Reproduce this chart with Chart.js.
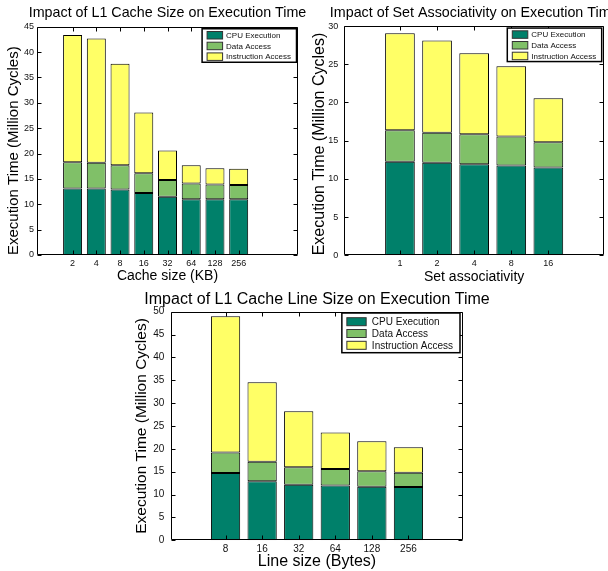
<!DOCTYPE html>
<html>
<head>
<meta charset="utf-8">
<script src="https://cdn.jsdelivr.net/npm/chart.js@4.4.1/dist/chart.umd.min.js"></script>
<style>
  html, body { margin: 0; padding: 0; background: #fff; overflow: hidden; }
  body { width: 608px; height: 571px; position: relative; }
  canvas { position: absolute; left: 0; top: 0; }
</style>
</head>
<body>
<canvas id="cacheSizeChart" width="700" height="571"></canvas>
<canvas id="assocChart" width="700" height="571"></canvas>
<canvas id="lineSizeChart" width="700" height="571"></canvas>
<script>
const FONT = '"Liberation Sans", Arial, Helvetica, sans-serif';

// series shared by all three plots
const seriesNames = ['CPU Execution', 'Data Access', 'Instruction Access'];
const seriesColors = ['#00806a', '#80c068', '#ffff66'];

// L1 cache size (KB)
const cacheSizes = ['2', '4', '8', '16', '32', '64', '128', '256'];
const cacheCpu   = [13.1, 13.1, 12.9, 12.2, 11.5, 11.0, 11.0, 11.0];
const cacheData  = [5.2, 5.1, 4.8, 3.9, 3.3, 3.1, 2.9, 2.8];
const cacheInstr = [25.1, 24.5, 20.0, 12.0, 5.8, 3.6, 3.2, 3.2];

// set associativity
const assocWays  = ['1', '2', '4', '8', '16'];
const assocCpu   = [12.25, 12.1, 11.9, 11.75, 11.5];
const assocData  = [4.1, 3.95, 3.95, 3.8, 3.3];
const assocInstr = [12.7, 12.05, 10.6, 9.2, 5.75];

// line size (bytes)
const lineSizes = ['8', '16', '32', '64', '128', '256'];
const lineCpu   = [14.7, 12.9, 12.15, 12.0, 11.7, 11.65];
const lineData  = [4.5, 4.3, 3.85, 3.6, 3.4, 3.15];
const lineInstr = [29.8, 17.35, 12.2, 8.0, 6.55, 5.55];

// matlab style box, inward ticks and boxed legend
const matlabFrame = {
  id: 'matlabFrame',
  afterDraw(chart, args, o) {
    const { ctx, chartArea: a, scales: { x, y } } = chart;
    const L = Math.round(a.left) + 0.5, R = Math.round(a.right) - 0.5;
    const T = Math.round(a.top) + 0.5, B = Math.round(a.bottom) - 0.5;
    ctx.save();
    ctx.strokeStyle = '#000';
    ctx.lineWidth = 1;
    ctx.beginPath();
    ctx.rect(L, T, R - L, B - T);
    y.ticks.forEach(t => {
      const py = Math.round(y.getPixelForValue(t.value)) + 0.5;
      ctx.moveTo(L, py); ctx.lineTo(L + 4, py);
      ctx.moveTo(R, py); ctx.lineTo(R - 4, py);
    });
    o.cats.forEach((c, i) => {
      const px = Math.round(x.getPixelForValue(i + 1)) + 0.5;
      ctx.moveTo(px, B); ctx.lineTo(px, B - 4);
      ctx.moveTo(px, T); ctx.lineTo(px, T + 4);
    });
    ctx.stroke();

    // legend
    const lg = o.legend;
    ctx.font = lg.size + 'px ' + FONT;
    const labels = chart.data.datasets.map(d => d.label);
    const textW = Math.max(...labels.map(s => ctx.measureText(s).width));
    const w = lg.padL + lg.swW + lg.gap + textW + lg.padR;
    const right = a.right - lg.insetR, top = a.top + lg.insetT;
    const left = right - w;
    ctx.fillStyle = '#fff';
    ctx.fillRect(left, top, w, lg.h);
    ctx.lineWidth = 1.5;
    ctx.strokeRect(left, top, w, lg.h);
    ctx.lineWidth = 1;
    chart.data.datasets.forEach((d, i) => {
      const cy = top + lg.first + i * lg.pitch;
      ctx.fillStyle = d.backgroundColor;
      ctx.fillRect(left + lg.padL, cy - lg.swH / 2, lg.swW, lg.swH);
      ctx.strokeStyle = '#333';
      ctx.strokeRect(left + lg.padL, cy - lg.swH / 2, lg.swW, lg.swH);
      ctx.fillStyle = '#111';
      ctx.textBaseline = 'middle';
      ctx.textAlign = 'left';
      ctx.fillText(d.label, left + lg.padL + lg.swW + lg.gap, cy + 0.5);
    });
    ctx.restore();
  }
};

function makeChart(id, cats, series, cfg) {
  const datasets = series.map((vals, k) => ({
    label: seriesNames[k],
    data: vals.map((v, i) => ({ x: i + 1, y: v })),
    backgroundColor: seriesColors[k],
    borderColor: '#000',
    borderWidth: 1,
    borderSkipped: false,
    barPercentage: 0.8,
    categoryPercentage: 1
  }));
  return new Chart(document.getElementById(id), {
    type: 'bar',
    data: { datasets },
    plugins: [matlabFrame],
    options: {
      responsive: false,
      animation: false,
      layout: { padding: cfg.padding },
      plugins: {
        legend: { display: false },
        tooltip: { enabled: false },
        title: {
          display: true,
          text: cfg.title,
          color: '#000',
          font: { family: FONT, size: cfg.titleSize, weight: 'normal' },
          padding: cfg.titlePad
        },
        matlabFrame: { cats, legend: cfg.legend }
      },
      scales: {
        x: {
          type: 'linear',
          stacked: true,
          min: 0,
          max: cfg.xMax,
          grid: { display: false, drawTicks: false, tickLength: 0 },
          border: { display: false },
          ticks: {
            stepSize: 1,
            autoSkip: false,
            maxRotation: 0,
            color: '#111',
            font: { family: FONT, size: cfg.tickSize },
            padding: cfg.xTickPad,
            callback: v => cats[v - 1] || ''
          },
          title: {
            display: true,
            text: cfg.xTitle,
            color: '#000',
            font: { family: FONT, size: cfg.xTitleSize },
            padding: { top: 0, bottom: cfg.xTitlePadB }
          },
          afterFit: s => { s.height = cfg.xH; }
        },
        y: {
          stacked: true,
          min: 0,
          max: cfg.yMax,
          grid: { display: false, drawTicks: false, tickLength: 0 },
          border: { display: false },
          ticks: {
            stepSize: 5,
            color: '#111',
            font: { family: FONT, size: cfg.tickSize },
            padding: cfg.yTickPad
          },
          title: {
            display: true,
            text: 'Execution Time (Million Cycles)',
            align: cfg.yTitleAlign,
            color: '#000',
            font: { family: FONT, size: cfg.yTitleSize },
            padding: { top: cfg.yTitlePadT, bottom: 0 }
          },
          afterFit: s => { s.width = cfg.yW; }
        },
        // empty right box so the title centres over the plot
        yR: {
          type: 'linear',
          position: 'right',
          display: true,
          grid: { display: false, drawTicks: false },
          border: { display: false },
          ticks: { display: false },
          afterFit: s => { s.width = cfg.yW; }
        }
      }
    }
  });
}

makeChart('cacheSizeChart', cacheSizes, [cacheCpu, cacheData, cacheInstr], {
  title: 'Impact of L1 Cache Size on Execution Time',
  titleSize: 14.3, titlePad: { top: 4, bottom: 5.6 },
  padding: { left: 0, right: 365, top: 0, bottom: 286 },
  xMax: 10, yMax: 45, yW: 37, xH: 30,
  tickSize: 9, xTickPad: 3, yTickPad: 3,
  xTitle: 'Cache size (KB)', xTitleSize: 14, xTitlePadB: 0,
  yTitleSize: 15, yTitlePadT: 5, yTitleAlign: 'start',
  legend: { size: 8, insetR: 1.5, insetT: 2, padL: 5, swW: 15.5, swH: 7.5, gap: 3.5, padR: 5.5, pitch: 10.7, first: 6.5, h: 33.5 }
});

makeChart('assocChart', assocWays, [assocCpu, assocData, assocInstr], {
  title: 'Impact of Set Associativity on Execution Time',
  titleSize: 14.3, titlePad: { top: 4, bottom: 4.9 },
  padding: { left: 306, right: 57.7, top: 0, bottom: 285.7 },
  xMax: 6, yMax: 30, yW: 38.3, xH: 30,
  tickSize: 9, xTickPad: 3, yTickPad: 6,
  xTitle: 'Set associativity', xTitleSize: 14, xTitlePadB: 0,
  yTitleSize: 16, yTitlePadT: 4.4, yTitleAlign: 'start',
  legend: { size: 8, insetR: 2.3, insetT: 2, padL: 5, swW: 15.5, swH: 7.5, gap: 3.5, padR: 5.5, pitch: 10.7, first: 6.5, h: 33.5 }
});

makeChart('lineSizeChart', lineSizes, [lineCpu, lineData, lineInstr], {
  title: 'Impact of L1 Cache Line Size on Execution Time',
  titleSize: 16, titlePad: { top: 4.9, bottom: 2.6 },
  padding: { left: 128, right: 194, top: 285, bottom: 0 },
  xMax: 7, yMax: 50, yW: 42.7, xH: 30.7,
  tickSize: 10, xTickPad: 2.7, yTickPad: 6.4,
  xTitle: 'Line size (Bytes)', xTitleSize: 16, xTitlePadB: 0,
  yTitleSize: 15.5, yTitlePadT: 4.4, yTitleAlign: 'center',
  legend: { size: 10, insetR: 3.3, insetT: 1.3, padL: 5, swW: 19.3, swH: 8, gap: 5.7, padR: 7, pitch: 11.8, first: 8.7, h: 39.7 }
});
</script>
</body>
</html>
